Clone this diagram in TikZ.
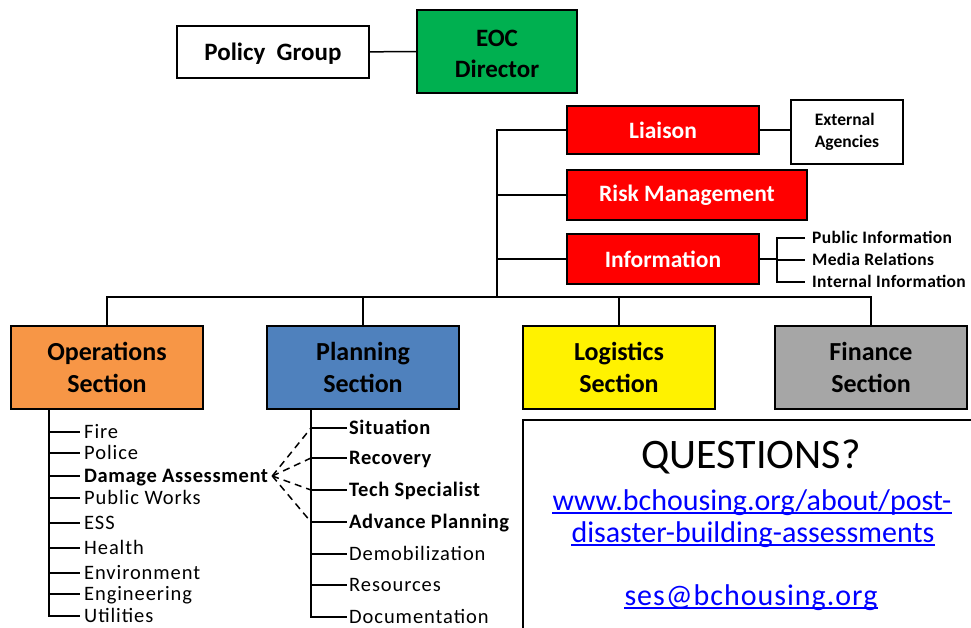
\documentclass[tikz,border=0pt]{standalone}
\usepackage{fontspec}
\setmainfont{Carlito}
\usetikzlibrary{calc}

\definecolor{eocgreen}{RGB}{0,176,80}
\definecolor{opsorange}{RGB}{247,150,70}
\definecolor{planblue}{RGB}{79,129,189}
\definecolor{fingray}{RGB}{166,166,166}
\definecolor{linkblue}{RGB}{0,0,255}
\newcommand{\fs}[2]{\fontsize{#1}{#2}\selectfont}

\begin{document}
\begin{tikzpicture}[x=1pt,y=-1pt,
    box/.style={draw,line width=1.5pt,inner sep=0pt,align=center,font=\fs{25}{31}\bfseries},
    redbox/.style={box,fill=red,text=white,font=\fs{23.5}{26}\bfseries},
    secbox/.style={box,minimum width=192pt,minimum height=83pt,font=\fs{26}{32}\bfseries},
    link/.style={line width=1.5pt},
    item/.style={anchor=west,inner ysep=0pt,inner xsep=4pt,text height=14pt,text depth=2pt,
      font=\fs{20.5}{22}\addfontfeatures{LetterSpace=4.5}},
    itembold/.style={item,font=\fs{20.5}{22}\bfseries\addfontfeatures{LetterSpace=3}},
    sub/.style={anchor=west,inner ysep=0pt,inner xsep=7pt,text height=12pt,text depth=1pt,
      font=\fs{17.5}{18}\bfseries\addfontfeatures{LetterSpace=2}},
    url/.style={anchor=base,inner sep=0pt,text=linkblue,font=\fs{30}{32}}]
  \useasboundingbox (0,0) rectangle (971,628);
  % top
  \node[box,minimum width=192pt,minimum height=52pt,text height=22pt,text depth=5pt] (policy) at (273,52) {Policy\ \ Group};
  \node[box,fill=eocgreen,minimum width=160pt,minimum height=83pt] (eoc) at (497,51.5) {\rule{0pt}{22pt}EOC\\Director};
  \draw[link] (policy) -- (eoc);
  % staff
  \node[redbox,minimum width=192pt,minimum height=48pt] (liaison) at (663,130) {Liaison};
  \node[box,minimum width=112pt,minimum height=64pt,align=left,font=\fs{17.5}{22}\bfseries] (ext) at (847,132) {External\\Agencies};
  \node[redbox,minimum width=240pt,minimum height=50pt] (risk) at (687,195) {Risk Management};
  \node[redbox,minimum width=192pt,minimum height=50pt] (info) at (663,259) {Information};
  \draw[link] (liaison.east) -- (liaison.east -| ext.west);
  \coordinate (hub) at (497,297);
  \draw[link] (liaison.west) -| (hub);
  \draw[link] (risk.west) -- (risk.west -| hub);
  \draw[link] (info.west) -- (info.west -| hub);
  % information
  \coordinate (ib) at (777,259);
  \node[sub] (pub) at (805,238) {Public\ Information};
  \node[sub] (media) at (805,260) {Media Relations};
  \node[sub] (intl) at (805,282) {Internal\ Information};
  \draw[link] (info.east) -- (ib);
  \draw[link] (pub.west) -| (intl.west -| ib) -- (intl.west);
  \draw[link] (media.west -| ib) -- (media.west);
  % sections
  \node[secbox,fill=opsorange] (ops) at (107,367.5) {Operations\\Section};
  \node[secbox,fill=planblue] (plan) at (363,367.5) {Planning\\Section};
  \node[secbox,fill=yellow] (log) at (619,367.5) {Logistics\\Section};
  \node[secbox,fill=fingray] (fin) at (871,367.5) {Finance\\Section};
  \draw[link] (ops.north) |- (hub) -| (fin.north);
  \draw[link] (plan.north) -- (plan.north |- hub);
  \draw[link] (log.north) -- (log.north |- hub);
  % operations list
  \coordinate (opsT) at (49,409);
  \foreach \t/\y/\s [count=\i] in {Fire/432/item, Police/453/item,
      Damage Assessment/476/itembold, Public Works/498/item, ESS/523/item,
      Health/548/item, Environment/573/item, Engineering/594/item, Utilities/616/item}
    \node[\s] (ops\i) at (80,\y) {\t};
  \draw[link] (opsT) |- (ops9.west);
  \foreach \i in {1,...,8}
    \draw[link] (ops\i.west -| opsT) -- (ops\i.west);
  % planning list
  \coordinate (planT) at (311,409);
  \foreach \t/\y/\s [count=\i] in {Situation/428/itembold, Recovery/458/itembold,
      Tech Specialist/490/itembold, Advance Planning/522/itembold,
      Demobilization/554/item, Resources/585/item, Documentation/617/item}
    \node[\s,inner xsep=2pt] (pl\i) at (347,\y) {\t};
  \draw[link] (planT) |- (pl7.west);
  \foreach \i in {1,...,6}
    \draw[link] (pl\i.west -| planT) -- (pl\i.west);
  \foreach \i in {1,...,4}
    \draw[link,dashed,dash pattern=on 7pt off 5pt] (ops3.east) -- (pl\i.west -| planT);
  % questions
  \draw[link] (523,628) |- (971,420);
  \node[font=\fs{42}{48}] (quest) at (751,457) {QUESTIONS?};
  \node[url] (url1) at (752,510) {www.bchousing.org/about/post-};
  \node[url] (url2) at (753,542) {disaster-building-assessments};
  \node[url,font=\fs{30}{32}\addfontfeatures{LetterSpace=3.3}] (mail) at (751,605) {ses@bchousing.org};
  \foreach \u in {url1,url2,mail}
    \draw[linkblue,line width=1.2pt] ([yshift=-3pt]\u.base west) -- ([yshift=-3pt]\u.base east);
\end{tikzpicture}
\end{document}
